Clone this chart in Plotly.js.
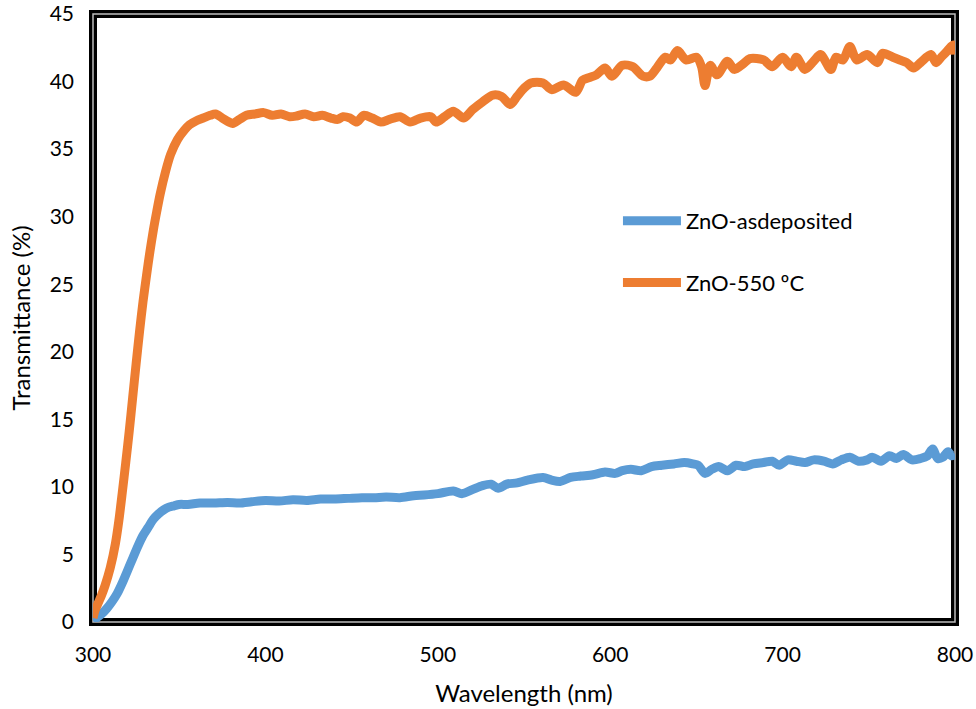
<!DOCTYPE html>
<html>
<head>
<meta charset="utf-8">
<script src="https://cdn.plot.ly/plotly-3.0.1.min.js"></script>
<style>html,body{margin:0;padding:0;background:#fff;}#chart{width:976px;height:709px;}</style>
</head>
<body>
<div id="chart"></div>
<script>
// Wavelength (nm) and transmittance (%)
const annealedWavelength = [300,301,303,305,307,310,313,315,317,319,321,323,325,327,329,331,333,335,337,339,342,345,349,353,356,360,364,368,371,375,379,381,385,389,394,399,404,409,414,418,423,428,433,438,442,445,449,453,457,462,467,472,478,484,490,496,499,504,509,515,520,526,532,537,542,546,550,554,561,566,573,580,584,588,592,597,601,607,613,619,623,627,632,635,639,644,650,653,655,658,662,668,672,677,681,689,694,700,705,708,713,718,722,728,731,735,739,743,749,755,758,764,768,772,776,780,786,789,792,795,799,800];
const annealedT = [0.3,0.8,1.4,2.0,2.7,4.0,5.8,7.5,9.6,11.8,14.1,16.6,19.1,21.5,23.7,25.6,27.4,29.0,30.4,31.7,33.3,34.6,35.7,36.4,36.8,37.1,37.3,37.5,37.6,37.3,37.0,36.9,37.2,37.5,37.6,37.7,37.5,37.6,37.4,37.45,37.6,37.4,37.5,37.3,37.2,37.4,37.3,37.0,37.5,37.3,37.0,37.2,37.4,37.0,37.3,37.4,37.0,37.4,37.8,37.3,37.9,38.5,39.0,38.9,38.3,38.9,39.5,39.9,39.9,39.4,39.75,39.2,40.1,40.3,40.5,41.0,40.4,41.2,41.1,40.4,40.4,41.0,41.8,41.6,42.3,41.6,41.8,41.1,39.7,41.2,40.5,41.5,40.9,41.3,41.7,41.6,41.1,41.8,41.1,41.8,40.9,41.5,42.0,40.9,41.8,41.6,42.6,41.6,42.0,41.4,42.1,41.8,41.6,41.4,41.0,41.4,42.0,41.4,41.8,42.2,42.7,42.0];

const depositedWavelength = [300,302,305,308,311,314,317,320,323,326,329,332,335,338,341,344,347,350,355,362,370,378,385,392,400,408,416,424,432,440,448,456,463,470,478,486,492,500,509,514,520,526,531,535,540,546,552,561,566,571,577,583,590,597,603,607,612,618,624,630,637,643,648,651,655,659,663,668,673,678,683,689,694,698,703,708,713,718,724,729,734,739,744,749,752,757,762,766,770,775,780,784,787,790,793,796,798,800];
const depositedT = [0.1,0.3,0.6,1.0,1.5,2.1,2.9,3.8,4.7,5.6,6.4,7.0,7.6,8.0,8.3,8.5,8.6,8.7,8.7,8.8,8.8,8.85,8.8,8.9,9.0,8.95,9.05,9.0,9.1,9.1,9.15,9.2,9.2,9.25,9.2,9.35,9.4,9.5,9.7,9.5,9.8,10.1,10.2,9.9,10.2,10.3,10.5,10.7,10.5,10.4,10.7,10.8,10.9,11.1,11.0,11.2,11.3,11.2,11.5,11.6,11.7,11.8,11.7,11.6,11.0,11.3,11.5,11.2,11.6,11.5,11.7,11.8,11.9,11.6,12.0,11.9,11.8,12.0,11.9,11.7,12.0,12.2,11.9,12.0,12.2,11.9,12.3,12.1,12.4,12.0,12.1,12.3,12.8,12.1,12.2,12.6,12.3,12.4];

const seriesNames = ['ZnO-asdeposited', 'ZnO-550 ºC'];
const xTicks = [300, 400, 500, 600, 700, 800];
const yTicks = [0, 5, 10, 15, 20, 25, 30, 35, 40, 45];

const FONT = 'Lato, "Open Sans", sans-serif';

const traces = [
  {
    x: depositedWavelength, y: depositedT, name: seriesNames[0],
    type: 'scatter', mode: 'lines', legendgroup: 'a',
    line: {color: '#5B9BD5', width: 9, shape: 'spline', smoothing: 0.8}
  },
  {
    x: annealedWavelength, y: annealedT, name: seriesNames[1],
    type: 'scatter', mode: 'lines', legendgroup: 'b',
    line: {color: '#ED7D31', width: 9, shape: 'spline', smoothing: 0.8}
  }
];

const layout = {
  width: 976, height: 709,
  margin: {l: 93, r: 21, t: 14, b: 87},
  paper_bgcolor: '#fff', plot_bgcolor: '#fff',
  font: {family: FONT, color: '#000', size: 20},
  showlegend: true,
  legend: {
    x: 0.609, y: 0.694, xanchor: 'left', yanchor: 'top',
    bgcolor: 'rgba(0,0,0,0)', font: {size: 22, family: FONT, color: '#000'},
    traceorder: 'grouped', tracegroupgap: 30, itemwidth: 58
  },
  xaxis: {
    range: [300, 800], tickvals: xTicks, ticktext: xTicks.map(String),
    showgrid: false, zeroline: false, showline: false, ticks: '',
    tickfont: {size: 21, family: FONT, color: '#000'},
    ticklabelstandoff: 18,
    title: {text: 'Wavelength (nm)', font: {size: 24, family: FONT, color: '#000'}, standoff: 20}
  },
  yaxis: {
    range: [0, 45], tickvals: yTicks, ticktext: yTicks.map(String),
    showgrid: false, zeroline: false, showline: false, ticks: '',
    tickfont: {size: 21, family: FONT, color: '#000'},
    ticklabelstandoff: 18,
    title: {text: 'Transmittance (%)', font: {size: 24, family: FONT, color: '#000'}, standoff: 12}
  },
  shapes: [
    {type: 'rect', xref: 'paper', yref: 'paper', x0: 0, x1: 1, y0: 0, y1: 1,
     line: {color: '#000', width: 8}, layer: 'below'},
    {type: 'rect', xref: 'paper', yref: 'paper', x0: 0, x1: 1, y0: 0, y1: 1,
     line: {color: '#bdbdbd', width: 1.5}, layer: 'below'}
  ]
};

Plotly.newPlot('chart', traces, layout, {displayModeBar: false, staticPlot: true});
</script>
</body>
</html>
